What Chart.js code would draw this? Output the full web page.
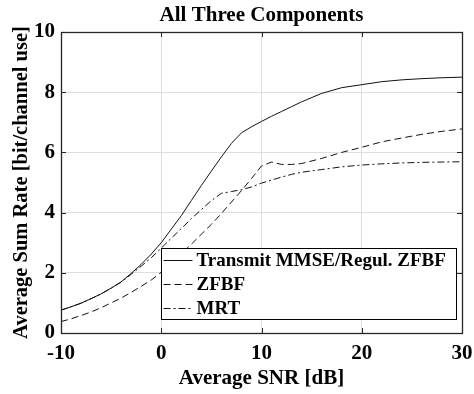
<!DOCTYPE html>
<html>
<head>
<meta charset="utf-8">
<script src="https://cdn.jsdelivr.net/npm/chart.js@4.4.1/dist/chart.umd.min.js"></script>
<style>
  html, body { margin: 0; padding: 0; background: #fff; }
  #wrap { width: 474px; height: 394px; }
</style>
</head>
<body>
<div id="wrap"><canvas id="c" width="474" height="394"></canvas></div>
<script>
// ---- Data ----
const snr = [-10,-9,-8,-7,-6,-5,-4,-3,-2,-1,0,1,2,3,4,5,6,7,8,9,10,11,12,13,14,16,18,20,22,24,26,28,30];
const mmseRate = [0.76,0.87,0.99,1.14,1.30,1.49,1.70,1.98,2.28,2.62,3.00,3.45,3.90,4.40,4.90,5.38,5.85,6.30,6.65,6.85,7.03,7.20,7.36,7.52,7.68,7.96,8.15,8.25,8.35,8.41,8.45,8.48,8.50];
const zfbfRate = [0.38,0.47,0.58,0.70,0.84,1.00,1.16,1.35,1.55,1.76,2.02,2.33,2.64,2.95,3.28,3.61,3.97,4.35,4.73,5.13,5.55,5.68,5.60,5.60,5.63,5.80,6.00,6.17,6.35,6.48,6.60,6.70,6.78];
const mrtRate  = [0.76,0.87,0.99,1.14,1.30,1.49,1.69,1.95,2.22,2.50,2.82,3.15,3.47,3.80,4.10,4.40,4.64,4.70,4.76,4.85,4.98,5.08,5.18,5.27,5.34,5.43,5.52,5.58,5.62,5.65,5.67,5.68,5.69];
const seriesLabels = ['Transmit MMSE/Regul. ZFBF', 'ZFBF', 'MRT'];
const xTicks = [-10, 0, 10, 20, 30];
const yTicks = [0, 2, 4, 6, 8, 10];
const chartTitle = 'All Three Components';
const xTitle = 'Average SNR [dB]';
const yTitle = 'Average Sum Rate [bit/channel use]';

const FONT = '"Liberation Serif", "Times New Roman", serif';

function pts(ys) { return snr.map((x, i) => ({ x: x, y: ys[i] })); }

const dashes = [[], [7, 4], [7, 3, 2, 3]];

// center the title over the plot area (as MATLAB does)
const titleOverPlot = {
  id: 'titleOverPlot',
  afterLayout(chart) {
    const t = chart.titleBlock;
    if (t) {
      t.left = chart.chartArea.left;
      t.right = chart.chartArea.right;
      t.width = t.right - t.left;
    }
  }
};

const frameAndTicks = {
  id: 'frameAndTicks',
  afterDraw(chart) {
    const { ctx, chartArea: a, scales } = chart;
    ctx.save();
    ctx.strokeStyle = '#262626';
    ctx.lineWidth = 1;
    const L = 5;
    ctx.beginPath();
    xTicks.forEach(v => {
      const px = Math.round(scales.x.getPixelForValue(v)) + 0.5;
      ctx.moveTo(px, a.bottom); ctx.lineTo(px, a.bottom - L);
      ctx.moveTo(px, a.top); ctx.lineTo(px, a.top + L);
    });
    yTicks.forEach(v => {
      const py = Math.round(scales.y.getPixelForValue(v)) + 0.5;
      ctx.moveTo(a.left, py); ctx.lineTo(a.left + L, py);
      ctx.moveTo(a.right, py); ctx.lineTo(a.right - L, py);
    });
    ctx.stroke();
    ctx.lineWidth = 1.3;
    ctx.strokeRect(Math.round(a.left) + 0.5, Math.round(a.top) + 0.5,
                   Math.round(a.right - a.left), Math.round(a.bottom - a.top));
    ctx.restore();
  }
};

const boxLegend = {
  id: 'boxLegend',
  afterDatasetsDraw(chart) {
    const { ctx, scales } = chart;
    const x0 = Math.round(scales.x.getPixelForValue(0)) + 0.5;
    const x1 = Math.round(scales.x.getPixelForValue(29.4)) + 0.5;
    const y0 = Math.round(scales.y.getPixelForValue(2.82)) + 0.5;
    const y1 = Math.round(scales.y.getPixelForValue(0.465)) + 0.5;
    ctx.save();
    ctx.fillStyle = '#fff';
    ctx.fillRect(x0, y0, x1 - x0, y1 - y0);
    ctx.strokeStyle = '#000';
    ctx.lineWidth = 1;
    ctx.strokeRect(x0, y0, x1 - x0, y1 - y0);
    const rowH = (y1 - y0) / 3;
    ctx.font = 'bold 19px ' + FONT;
    ctx.textBaseline = 'middle';
    ctx.fillStyle = '#000';
    chart.data.datasets.forEach((ds, i) => {
      const cy = Math.round(y0 + rowH * (i + 0.5)) + 0.5;
      ctx.beginPath();
      ctx.setLineDash(ds.borderDash || []);
      ctx.strokeStyle = ds.borderColor;
      ctx.lineWidth = 1;
      ctx.moveTo(x0 + 2, cy);
      ctx.lineTo(x0 + 31, cy);
      ctx.stroke();
      ctx.setLineDash([]);
      ctx.fillText(ds.label, x0 + 35, cy + 1);
    });
    ctx.restore();
  }
};

new Chart(document.getElementById('c'), {
  type: 'line',
  data: {
    datasets: [mmseRate, zfbfRate, mrtRate].map((ys, i) => ({
      label: seriesLabels[i],
      data: pts(ys),
      borderColor: '#111',
      borderWidth: 1,
      borderDash: dashes[i],
      pointRadius: 0,
      fill: false,
      tension: 0
    }))
  },
  options: {
    responsive: false,
    animation: false,
    devicePixelRatio: 1,
    layout: { padding: { left: 0, right: 12, top: 0, bottom: 0 } },
    plugins: {
      legend: { display: false },
      tooltip: { enabled: false },
      title: {
        display: true,
        text: chartTitle,
        color: '#000',
        font: { family: FONT, size: 21, weight: 'bold', lineHeight: 1.2 },
        padding: { top: 3.3, bottom: 3.5 }
      }
    },
    scales: {
      x: {
        type: 'linear',
        min: -10, max: 30,
        afterBuildTicks(s) { s.ticks = xTicks.map(v => ({ value: v })); },
        afterFit(s) { s.height = 61; s.paddingLeft = 0; s.paddingRight = 0; },
        grid: { color: '#dedede', drawTicks: false, lineWidth: 1 },
        border: { display: false },
        ticks: { color: '#000', padding: 8, maxRotation: 0,
                 font: { family: FONT, size: 21, weight: 'bold' } },
        title: { display: true, text: xTitle, color: '#000',
                 padding: { top: 0, bottom: 2.4 },
                 font: { family: FONT, size: 21, weight: 'bold', lineHeight: 1.2 } }
      },
      y: {
        type: 'linear',
        min: 0, max: 10,
        afterBuildTicks(s) { s.ticks = yTicks.map(v => ({ value: v })); },
        afterFit(s) { s.width = 61; s.paddingTop = 0; s.paddingBottom = 0; },
        grid: { color: '#dedede', drawTicks: false, lineWidth: 1 },
        border: { display: false },
        ticks: { color: '#000', padding: 6,
                 font: { family: FONT, size: 21, weight: 'bold' } },
        title: { display: true, text: yTitle, color: '#000',
                 padding: { top: 9.7, bottom: 0 },
                 font: { family: FONT, size: 20.5, weight: 'bold', lineHeight: 1.2 } }
      }
    }
  },
  plugins: [titleOverPlot, boxLegend, frameAndTicks]
});
</script>
</body>
</html>
